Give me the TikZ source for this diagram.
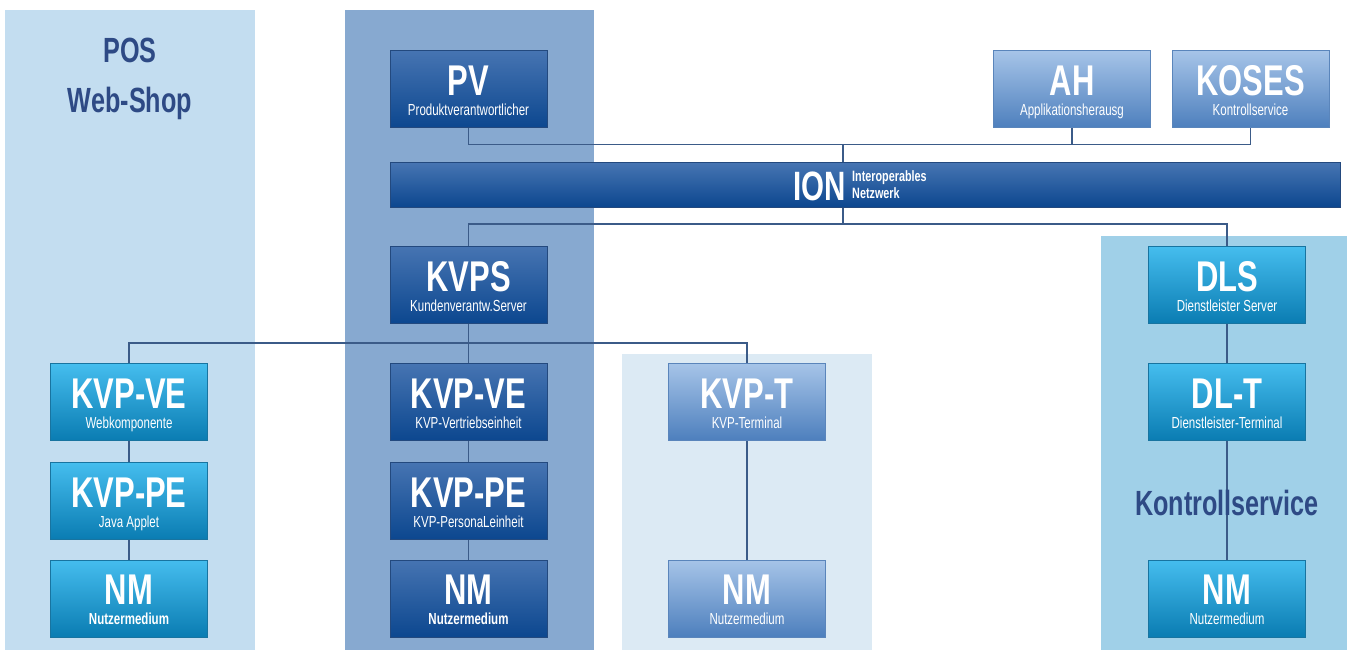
\documentclass[tikz,border=0pt]{standalone}
\usepackage{fontspec}
\newfontfamily\condfont[FakeStretch=0.72]{Liberation Sans}
\usetikzlibrary{calc}

\definecolor{posbg}{HTML}{C3DDF0}
\definecolor{kvpbg}{HTML}{87A9D0}
\definecolor{termbg}{HTML}{DCEAF4}
\definecolor{ctrlbg}{HTML}{A0D0E8}
\definecolor{darktop}{HTML}{4674B2}
\definecolor{darkbot}{HTML}{0C478F}
\definecolor{darkedge}{HTML}{23497E}
\definecolor{lighttop}{HTML}{A6C4E8}
\definecolor{lightbot}{HTML}{4D7FBD}
\definecolor{lightedge}{HTML}{5A85BB}
\definecolor{cyantop}{HTML}{45BDEE}
\definecolor{cyanbot}{HTML}{0A7CB2}
\definecolor{cyanedge}{HTML}{1874A0}
\definecolor{linecol}{HTML}{3B5B88}
\definecolor{headcol}{HTML}{2E4A85}

\tikzset{
  unit/.style={minimum width=157pt, minimum height=77pt, inner sep=0pt, align=center,
    text=white, line width=1pt, font=\condfont\fontsize{16}{20}\selectfont},
  darkbox/.style={unit, top color=darktop, bottom color=darkbot, draw=darkedge},
  lightbox/.style={unit, top color=lighttop, bottom color=lightbot, draw=lightedge},
  cyanbox/.style={unit, top color=cyantop, bottom color=cyanbot, draw=cyanedge},
  link/.style={draw=linecol, line width=1.3pt},
  head/.style={text=headcol, inner sep=0pt, font=\condfont\bfseries\fontsize{35}{35}\selectfont}
}
\newcommand{\unitlabel}[2]{{\bfseries\fontsize{43}{43}\selectfont\rule{0pt}{36pt}#1}\\\rule[-4pt]{0pt}{0pt}#2}

\begin{document}
\begin{tikzpicture}[x=1pt,y=-1pt]
\useasboundingbox (0,0) rectangle (1347,650);
\fill[posbg] (5,10) rectangle (255,650);
\fill[kvpbg] (345,10) rectangle (594,650);
\fill[termbg] (622,354) rectangle (872,650);
\fill[ctrlbg] (1101,236) rectangle (1347,650);

\node[head] (pos) at (130,50) {POS};
\node[head] (shop) at (130,103) {Web-Shop};

% top row and ION
\node[darkbox] (pv) at (468.5,89.5) {\unitlabel{PV}{Produktverantwortlicher}};
\node[lightbox] (ah) at (1072,89.5) {\unitlabel{AH}{Applikationsherausg}};
\node[lightbox] (koses) at (1250.5,89.5) {\unitlabel{KOSES}{Kontrollservice}};
\node[darkbox, minimum width=950pt, minimum height=44pt] (ion) at (865,185) {};
\node[text=white, anchor=east, inner sep=0pt, font=\condfont\bfseries\fontsize{41}{41}\selectfont] (iontxt) at (846,186) {ION};
\node[text=white, anchor=west, inner sep=0pt, align=left, font=\condfont\bfseries\fontsize{15}{17}\selectfont] (ionsub) at (852,185) {Interoperables\\Netzwerk};

% servers
\node[darkbox] (kvps) at (468.5,285) {\unitlabel{KVPS}{Kundenverantw.Server}};
\node[cyanbox] (dls) at (1227,285) {\unitlabel{DLS}{Dienstleister Server}};

% units
\node[cyanbox] (kvpve1) at (129,402) {\unitlabel{KVP-VE}{Webkomponente}};
\node[darkbox] (kvpve2) at (468.5,402) {\unitlabel{KVP-VE}{KVP-Vertriebseinheit}};
\node[lightbox] (kvpt) at (747,402) {\unitlabel{KVP-T}{KVP-Terminal}};
\node[cyanbox] (dlt) at (1227,402) {\unitlabel{DL-T}{Dienstleister-Terminal}};
\node[cyanbox] (kvppe1) at (129,501) {\unitlabel{KVP-PE}{Java Applet}};
\node[darkbox] (kvppe2) at (468.5,501) {\unitlabel{KVP-PE}{KVP-PersonaLeinheit}};
\node[cyanbox] (nm1) at (129,598.5) {\unitlabel{NM}{\bfseries Nutzermedium}};
\node[darkbox] (nm2) at (468.5,598.5) {\unitlabel{NM}{\bfseries Nutzermedium}};
\node[lightbox] (nm3) at (747,598.5) {\unitlabel{NM}{Nutzermedium}};
\node[cyanbox] (nm4) at (1227,598.5) {\unitlabel{NM}{Nutzermedium}};

% connections
\coordinate (topbus) at (843,144);
\coordinate (lowbus) at (843,224);
\draw[link] (pv.south) -- ++(0,16) -| (koses.south);
\draw[link] (ah.south) -- ++(0,16);
\draw[link] (topbus) -- (topbus |- ion.north);
\draw[link] (topbus |- ion.south) -- (lowbus);
\draw[link] (kvps.north) |- (lowbus) -| (dls.north);
\draw[link] (kvps.south) -- (kvpve2.north);
\draw[link] (kvpve1.north) -- ++(0,-20) -| (kvpt.north);
\draw[link] (kvpve1.south) -- (kvppe1.north);
\draw[link] (kvppe1.south) -- (nm1.north);
\draw[link] (kvpve2.south) -- (kvppe2.north);
\draw[link] (kvppe2.south) -- (nm2.north);
\draw[link] (kvpt.south) -- (nm3.north);
\draw[link] (dls.south) -- (dlt.north);
\draw[link] (dlt.south) -- (nm4.north);

\node[head] (ctrl) at (1227,503) {Kontrollservice};
\end{tikzpicture}
\end{document}
